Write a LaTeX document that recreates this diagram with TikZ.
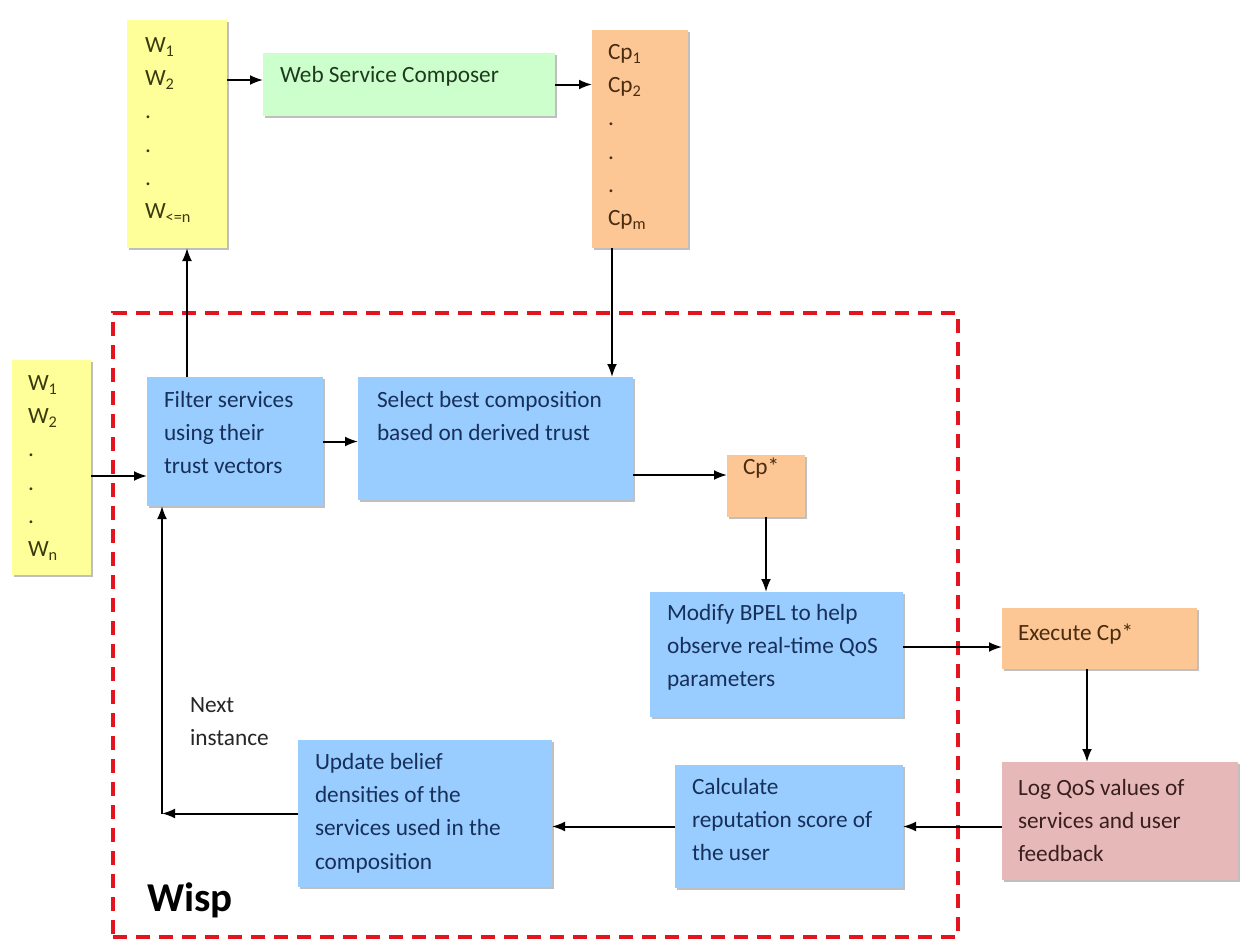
\documentclass[tikz,border=0pt]{standalone}
\usepackage{fontspec}
\setmainfont{Carlito}
\usetikzlibrary{arrows.meta,shadows,calc}
\definecolor{cyel}{HTML}{FFFF99}
\definecolor{cgrn}{HTML}{CCFFCC}
\definecolor{corg}{HTML}{FCC794}
\definecolor{cblu}{HTML}{99CCFF}
\definecolor{cpnk}{HTML}{E6B9B8}
\definecolor{cred}{HTML}{E3141E}
\definecolor{tblu}{HTML}{17305A}
\definecolor{tyel}{HTML}{3A3A10}
\definecolor{torg}{HTML}{4A2C10}
\definecolor{tgrn}{HTML}{1E3A1E}
\definecolor{tpnk}{HTML}{3A1F1F}
\begin{document}
\begin{tikzpicture}[x=1pt,y=-1pt,
  bx/.style={draw=none,inner sep=0,outer sep=0,
    drop shadow={shadow xshift=1.8pt,shadow yshift=-1.8pt,fill=black!50}},
  txt/.style={anchor=north west,inner sep=0,outer sep=0,align=left,
    font=\fontsize{23.3}{33.3}\selectfont},
  arr/.style={line width=2pt,-{Latex[length=13pt,width=10pt]}}]
\useasboundingbox (0,0) rectangle (1240,945);
\fill[white] (0,0) rectangle (1240,945);

% Wisp frame
\node[draw=cred,line width=3.2pt,dash pattern=on 14pt off 9pt,inner sep=0,
  minimum width=845,minimum height=624] (frame) at (535.5,625) {};

% boxes
\node[bx,fill=cyel,minimum width=100,minimum height=228] (topY) at (177,134) {};
\node[bx,fill=cgrn,minimum width=292,minimum height=63] (green) at (409,84.5) {};
\node[bx,fill=corg,minimum width=96,minimum height=218] (cpbox) at (640,139) {};
\node[bx,fill=cyel,minimum width=79,minimum height=215] (leftY) at (51.5,467.5) {};
\node[bx,fill=cblu,minimum width=176,minimum height=129] (filter) at (235,441.5) {};
\node[bx,fill=cblu,minimum width=275,minimum height=123] (select) at (495.5,438.5) {};
\node[bx,fill=corg,minimum width=78,minimum height=62] (cpstar) at (766,486) {};
\node[bx,fill=cblu,minimum width=253,minimum height=125] (modify) at (776.5,654.5) {};
\node[bx,fill=corg,minimum width=195,minimum height=61] (execute) at (1099.5,638.5) {};
\node[bx,fill=cpnk,minimum width=236,minimum height=118] (log) at (1120,821) {};
\node[bx,fill=cblu,minimum width=228,minimum height=123] (calc) at (789,826.5) {};
\node[bx,fill=cblu,minimum width=254,minimum height=147] (update) at (425,813.5) {};

% texts
\node[txt,text=tyel] (tTopY) at (145,29) {\strut W\textsubscript{1}\\W\textsubscript{2}\\.\\.\\.\\W\textsubscript{<=n}};
\node[txt,text=tgrn] (tGreen) at (280,59) {\strut Web Service Composer};
\node[txt,text=torg] (tCp) at (608,36) {\strut Cp\textsubscript{1}\\Cp\textsubscript{2}\\.\\.\\.\\Cp\textsubscript{m}};
\node[txt,text=tyel] (tLeftY) at (28,367) {\strut W\textsubscript{1}\\W\textsubscript{2}\\.\\.\\.\\W\textsubscript{n}};
\node[txt,text=tblu] (tFilter) at (164,384) {\strut Filter services\\using their\\trust vectors};
\node[txt,text=tblu] (tSelect) at (377,384) {\strut Select best composition\\based on derived trust};
\node[txt,text=torg] (tCpstar) at (743,451) {\strut Cp*};
\node[txt,text=tblu] (tModify) at (667,597) {\strut Modify BPEL to help\\observe real-time QoS\\parameters};
\node[txt,text=torg] (tExecute) at (1018,617) {\strut Execute Cp*};
\node[txt,text=tpnk] (tLog) at (1018,772) {\strut Log QoS values of\\services and user\\feedback};
\node[txt,text=tblu] (tCalc) at (692,771) {\strut Calculate\\reputation score of\\the user};
\node[txt,text=tblu] (tUpdate) at (315,746) {\strut Update belief\\densities of the\\services used in the\\composition};
\node[txt,text=black!85] (tNext) at (190,689) {\strut Next\\instance};
\node[anchor=base west,inner sep=0,font=\fontsize{41}{45}\selectfont\bfseries] (tWisp) at (147,911) {Wisp};

% connectors
\draw[arr] ([yshift=54pt]topY.east) -- ([yshift=54pt]topY.east -| green.west);
\draw[arr] (green.east) -- (green.east -| cpbox.west);
\draw[arr] ([xshift=-28pt]cpbox.south) -- ([xshift=-28pt]cpbox.south |- select.north);
\draw[arr] ([xshift=-48pt]filter.north) -- ([xshift=-48pt]filter.north |- topY.south);
\draw[arr] ([yshift=-8.5pt]leftY.east) -- ([yshift=-8.5pt]leftY.east -| filter.west);
\draw[arr] (filter.east) -- (filter.east -| select.west);
\draw[arr] ([yshift=11pt]cpstar.west -| select.east) -- ([yshift=11pt]cpstar.west);
\draw[arr] (cpstar.south) -- (cpstar.south |- modify.north);
\draw[arr] ([yshift=7.5pt]modify.east) -- ([yshift=7.5pt]modify.east -| execute.west);
\draw[arr] ([xshift=-12.5pt]execute.south) -- ([xshift=-12.5pt]execute.south |- log.north);
\draw[arr] (calc.east -| log.west) -- (calc.east);
\draw[arr] (calc.west) -- (calc.west -| update.east);
\coordinate (corner) at (162,813.5);
\draw[arr] (update.west) -- (corner);
\draw[arr] (corner) -- (corner |- filter.south);
\end{tikzpicture}
\end{document}
